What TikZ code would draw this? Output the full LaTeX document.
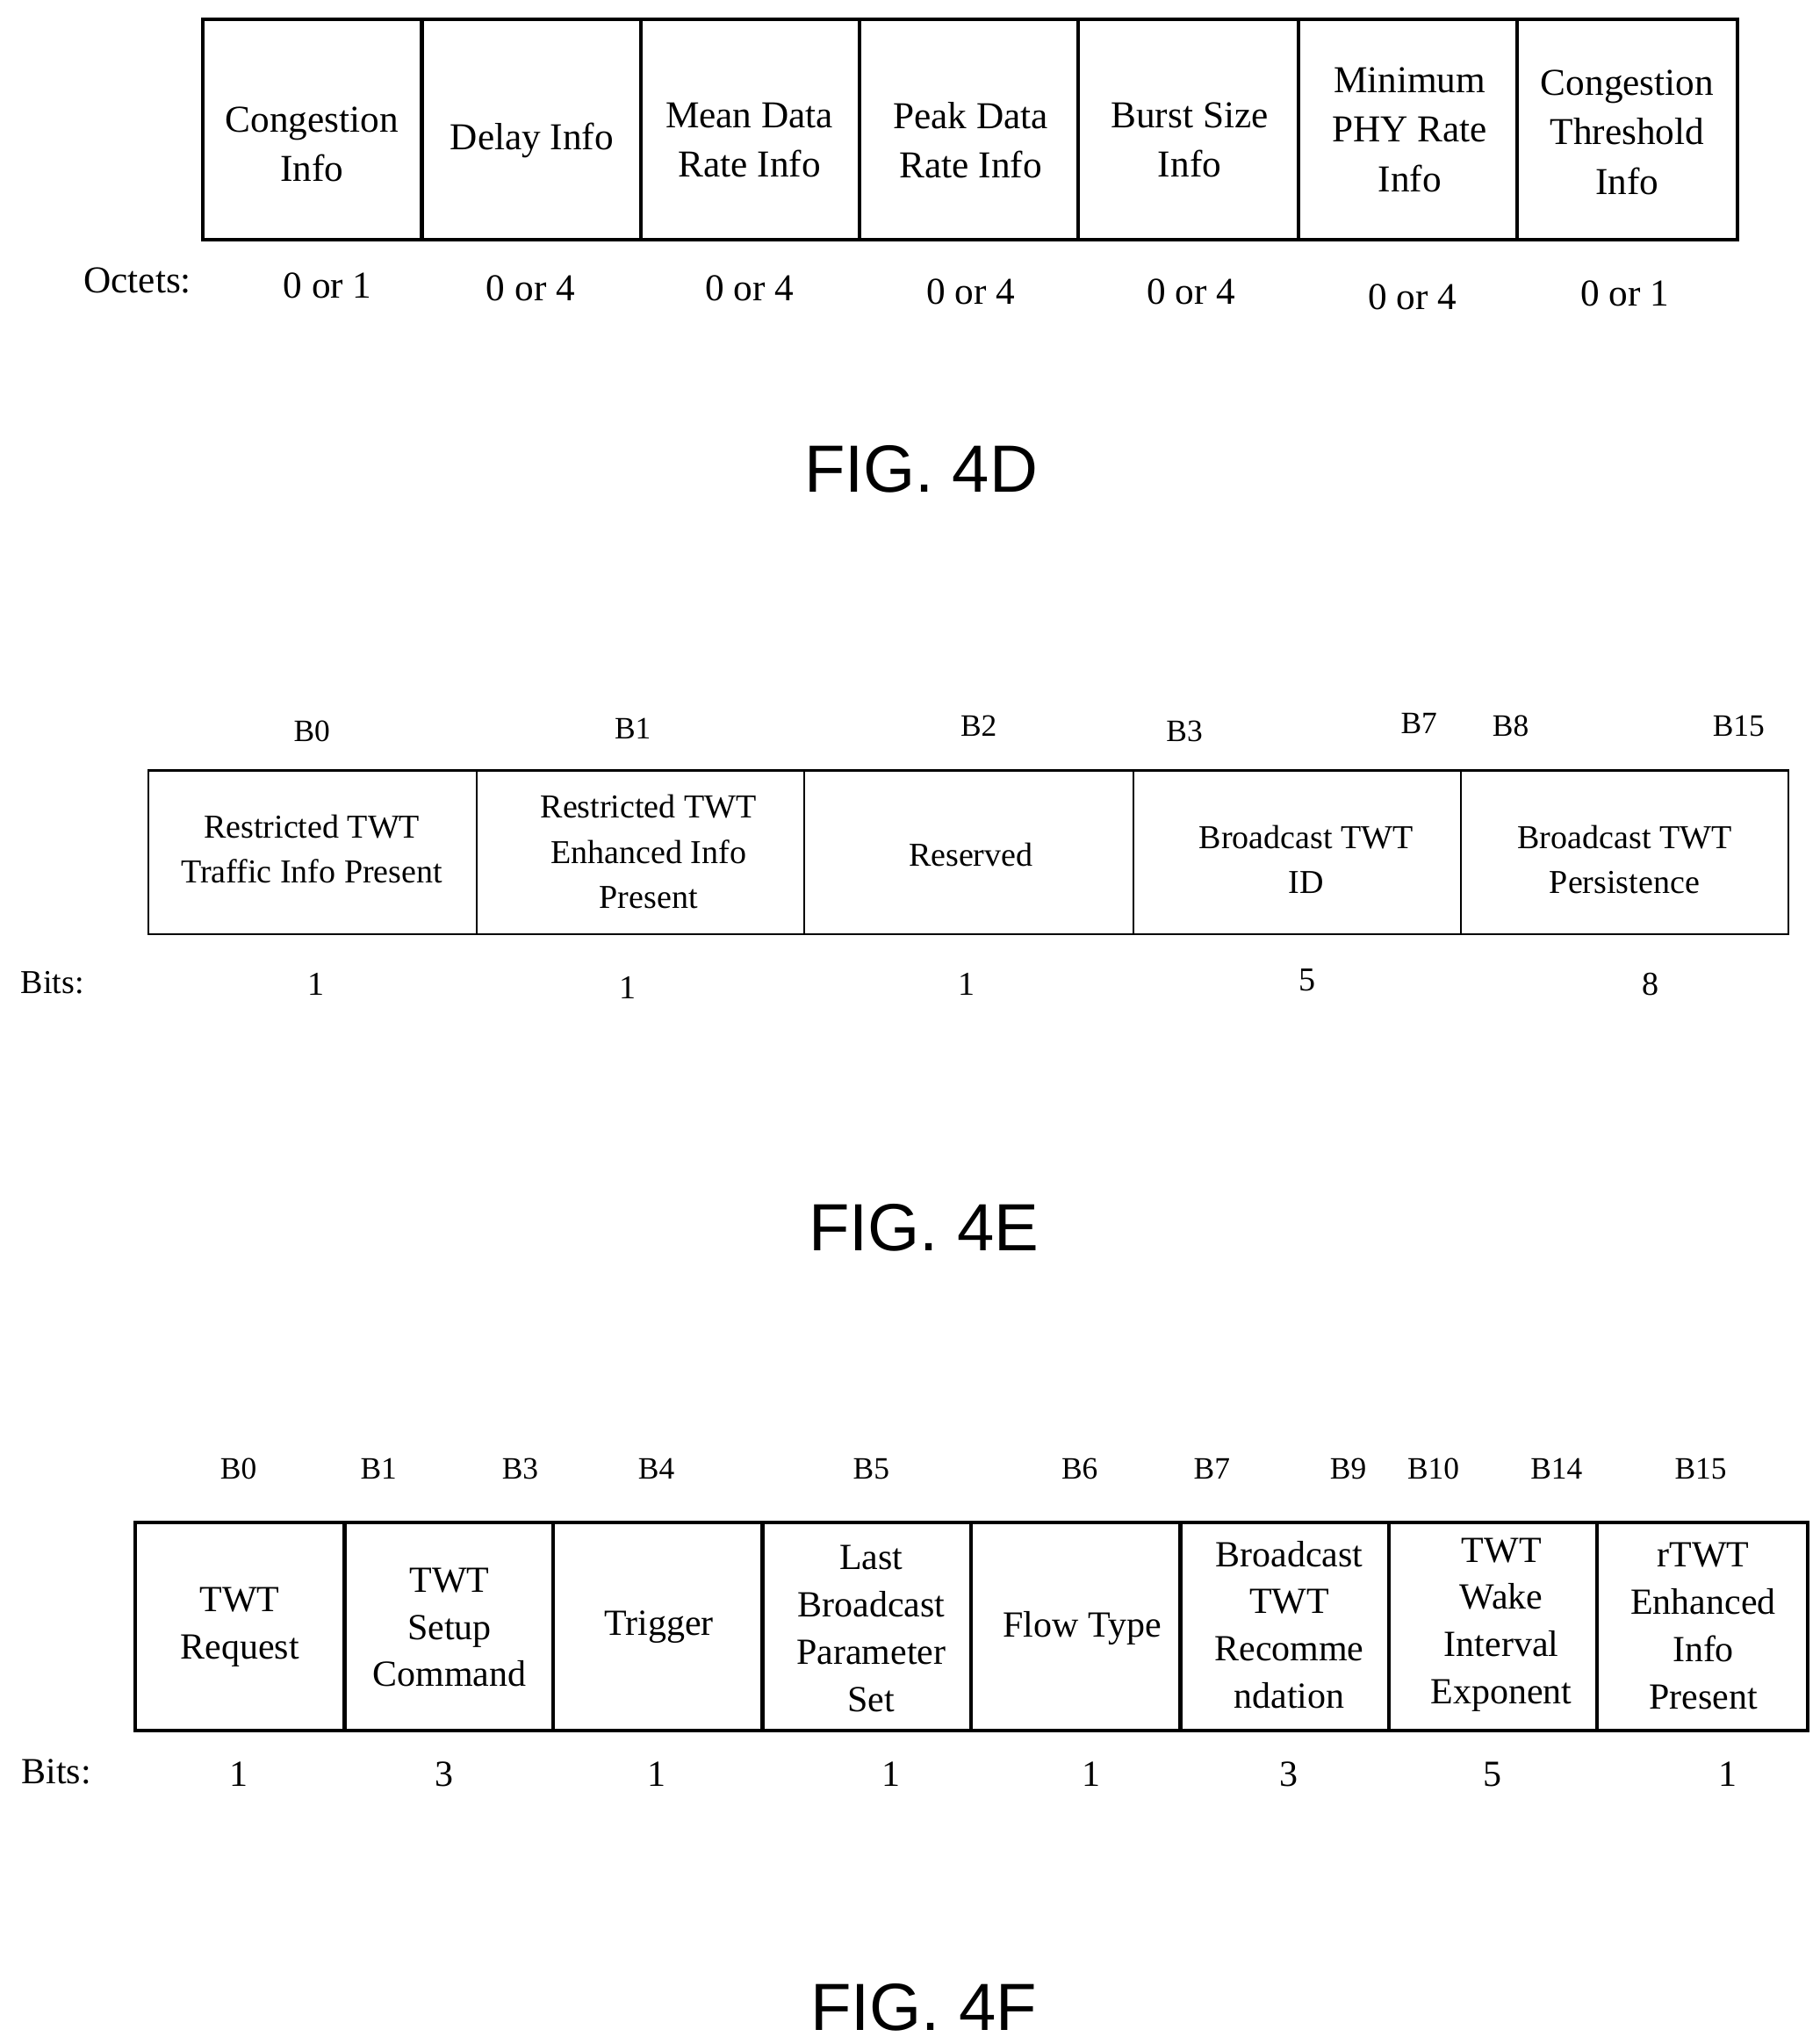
\documentclass[tikz,border=0pt]{standalone}
\usepackage{fontspec}
\setmainfont{Liberation Serif}
\newfontfamily\figfont{Liberation Sans}
\begin{document}
\begin{tikzpicture}[x=0.02cm,y=-0.02cm,
  fa/.style={font=\fontsize{16.5}{21.5}\selectfont,align=center},
  fb/.style={font=\fontsize{14.5}{19.5}\selectfont,align=center},
  fc/.style={font=\fontsize{16}{20.5}\selectfont,align=center},
  bl/.style={font=\fontsize{13.5}{16}\selectfont},
  fig/.style={font=\figfont\fontsize{29}{32}\selectfont},
  thick box/.style={line width=1.6pt},
  thin box/.style={line width=0.8pt}]
\useasboundingbox (0,0) rectangle (1389,1560);
% FIG 4D
\draw[thick box] (155,15) rectangle (1326,183);
\foreach \x in {322,489,656,823,991,1158} \draw[thick box] (\x,15) -- (\x,183);
\node[fa] (d1) at (238,110) {Congestion\\Info};
\node[fa] (d2) at (406,107) {Delay Info};
\node[fa] (d3) at (572,107) {Mean Data\\Rate Info};
\node[fa] (d4) at (741,107) {Peak Data\\Rate Info};
\node[fa] (d5) at (908,107) {Burst Size\\Info};
\node[fa] (d6) at (1076,99) {Minimum\\PHY Rate\\Info};
\node[fa] (d7) at (1242,101) {Congestion\\Threshold\\Info};
\node[fa] (oct) at (105,214) {Octets:};
\foreach \x/\t/\y in {250/0 or 1/218,405/0 or 4/220,572/0 or 4/220,741/0 or 4/223,909/0 or 4/223,1078/0 or 4/227,1240/0 or 1/224}
  \node[fa] at (\x,\y) {\t};
\node[fig] (f4d) at (703,358) {FIG. 4D};
% FIG 4E
\draw[thin box] (113,588) rectangle (1365,713);
\foreach \x in {364,614,865,1115} \draw[thin box] (\x,588) -- (\x,713);
\node[fb] (e1) at (238,648) {Restricted TWT\\Traffic Info Present};
\node[fb] (e2) at (495,650) {Restricted TWT\\Enhanced Info\\Present};
\node[fb] (e3) at (741,652) {Reserved};
\node[fb] (e4) at (997,656) {Broadcast TWT\\ID};
\node[fb] (e5) at (1240,656) {Broadcast TWT\\Persistence};
\foreach \x/\t/\y in {238/B0/558,483/B1/556,747/B2/554,904/B3/558,1083/B7/552,1153/B8/554,1327/B15/554}
  \node[bl] at (\x,\y) {\t};
\node[fb] (bits1) at (40,750) {Bits:};
\foreach \x/\y/\t in {241/751/1,479/754/1,738/751/1,998/748/5,1260/751/8}
  \node[fb] at (\x,\y) {\t};
\node[fig] (f4e) at (705,937) {FIG. 4E};
% FIG 4F
\draw[thick box] (103,1162) rectangle (1380,1321);
\foreach \x in {263,422,582,741,901,1060,1219} \draw[thick box] (\x,1162) -- (\x,1321);
\node[fc] (g1) at (183,1242) {TWT\\Request};
\node[fc] (g2) at (343,1242) {TWT\\Setup\\Command};
\node[fc] (g3) at (503,1242) {Trigger};
\node[fc] (g4) at (665,1243) {Last\\Broadcast\\Parameter\\Set};
\node[fc] (g5) at (826,1243) {Flow Type};
\node[fc] (g6) at (984,1240) {Broadcast\\TWT\\Recomme\\ndation};
\node[fc] (g7) at (1146,1240) {TWT\\Wake\\Interval\\Exponent};
\node[fc] (g8) at (1300,1241) {rTWT\\Enhanced\\Info\\Present};
\foreach \x/\t in {182/B0,289/B1,397/B3,501/B4,665/B5,824/B6,925/B7,1029/B9,1094/B10,1188/B14,1298/B15}
  \node[bl] at (\x,1121) {\t};
\node[fc] (bits2) at (43,1352) {Bits:};
\foreach \x/\t in {182/1,339/3,501/1,680/1,833/1,984/3,1139/5,1319/1}
  \node[fc] at (\x,1354) {\t};
\node[fig] (f4f) at (705,1532) {FIG. 4F};
\end{tikzpicture}
\end{document}
